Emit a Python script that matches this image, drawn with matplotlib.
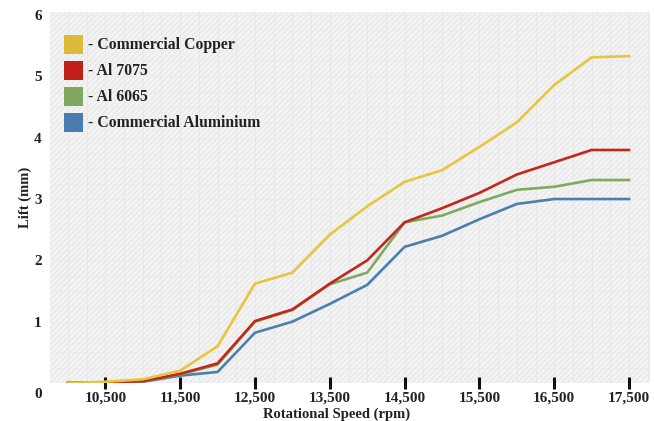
import matplotlib
matplotlib.use("Agg")
import matplotlib.pyplot as plt
from matplotlib.patches import Rectangle
from matplotlib.transforms import ScaledTranslation

# Rotational speed (rpm) and measured lift (mm) per material
speed = [10000, 10500, 11000, 11500, 12000, 12500, 13000, 13500,
         14000, 14500, 15000, 15500, 16000, 16500, 17000, 17500]
copper = [0.0, 0.02, 0.06, 0.2, 0.6, 1.62, 1.8, 2.42,
          2.88, 3.28, 3.47, 3.85, 4.25, 4.86, 5.31, 5.33]
al7075 = [0.0, 0.01, 0.03, 0.15, 0.32, 1.01, 1.2, 1.62,
          2.0, 2.62, 2.85, 3.1, 3.4, 3.6, 3.8, 3.8]
al6065 = [0.0, 0.01, 0.03, 0.14, 0.3, 1.0, 1.19, 1.61,
          1.8, 2.62, 2.73, 2.95, 3.15, 3.2, 3.31, 3.31]
commercial_al = [0.0, 0.01, 0.02, 0.12, 0.18, 0.82, 1.0, 1.29,
                 1.6, 2.22, 2.4, 2.67, 2.92, 3.0, 3.0, 3.0]

series_names = ["- Commercial Copper", "- Al 7075", "- Al 6065",
                "- Commercial Aluminium"]
line_colors = ["#E8C53E", "#C4261C", "#7FAA5C", "#4A7FB0"]

xticks = [10500, 11500, 12500, 13500, 14500, 15500, 16500, 17500]
xtick_labels = ["10,500", "11,500", "12,500", "13,500", "14,500",
                "15,500", "16,500", "17,500"]
yticks = [0, 1, 2, 3, 4, 5, 6]

serif = ["Liberation Serif", "DejaVu Serif"]

fig = plt.figure(figsize=(6.54, 4.21), dpi=100)
ax = fig.add_axes([50 / 654, 38 / 421, 600 / 654, 371 / 421])

ax.set_xlim(9760, 17780)
ax.set_ylim(0, 6.05)

# Light textured plot background
ax.set_facecolor("#f4f4f4")
ax.add_patch(Rectangle((0, 0), 1, 1, transform=ax.transAxes, facecolor="none",
                       edgecolor="#e9e9e9", hatch="//////", lw=0, zorder=0))
for xv in range(9750, 17800, 250):
    ax.axvline(xv, color="#e6e6e6", lw=0.6, zorder=0.5)
for yv in [i * 0.25 for i in range(1, 25)]:
    ax.axhline(yv, color="#eaeaea", lw=0.5, zorder=0.5)

# Draw from the bottom series up so copper stays on top
data = [copper, al7075, al6065, commercial_al]
order = [3, 2, 1, 0]
for i in order:
    ax.plot(speed, data[i], color=line_colors[i], lw=1.9,
            solid_joinstyle="round", zorder=3 + (3 - i))

for s in ax.spines.values():
    s.set_visible(False)

ax.set_xticks(xticks)
ax.set_xticklabels(xtick_labels)
ax.tick_params(axis="x", direction="inout", length=8, width=2.2,
               color="#111111", pad=2)
ax.set_yticks(yticks)
ax.set_yticklabels([str(v) for v in yticks])
ax.tick_params(axis="y", length=0, pad=6)
for lbl in ax.get_xticklabels() + ax.get_yticklabels():
    lbl.set_fontfamily(serif)
    lbl.set_fontweight("bold")
    lbl.set_fontsize(11)
    lbl.set_color("#222222")

# Baseline label sits a little below the axis
zero_lbl = ax.yaxis.get_major_ticks()[0].label1
zero_lbl.set_transform(zero_lbl.get_transform()
                       + ScaledTranslation(0, -7 / 72, fig.dpi_scale_trans))

ax.set_xlabel("Rotational Speed (rpm)", fontfamily=serif, fontweight="bold",
              fontsize=10.5, color="#222222", labelpad=0)
ax.xaxis.set_label_coords(0.478, -0.066)
ax.set_ylabel("Lift (mm)", fontfamily=serif, fontweight="bold",
              fontsize=10.5, color="#222222")
ax.yaxis.set_label_coords(-0.03, 0.5)

# Legend: coloured squares with bold captions
legend_colors = ["#DDBB3A", "#C0221A", "#82A860", "#4A7DAF"]
for k, (name, col) in enumerate(zip(series_names, legend_colors)):
    y_top = 35 + k * 26
    fig.patches.append(Rectangle((64 / 654, 1 - (y_top + 19) / 421),
                                 19 / 654, 19 / 421, transform=fig.transFigure,
                                 facecolor=col, edgecolor="none", zorder=5))
    fig.text(88 / 654, 1 - (y_top + 10) / 421, name, fontfamily=serif,
             fontweight="bold", fontsize=11.3, color="#222222", va="center",
             ha="left")

fig.savefig("out.png", dpi=100)
